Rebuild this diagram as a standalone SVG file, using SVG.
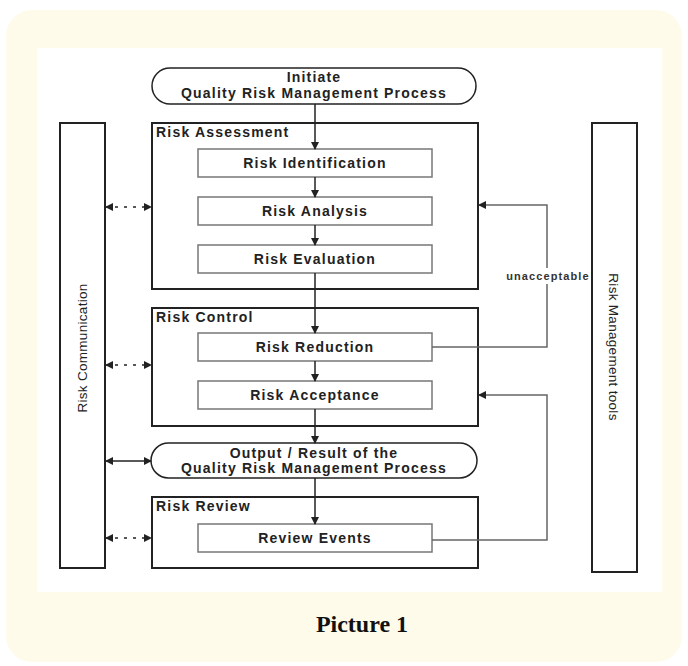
<svg xmlns="http://www.w3.org/2000/svg" width="688" height="666" viewBox="0 0 688 666">
<style>
.t{font-family:"Liberation Sans",Arial,sans-serif;font-weight:bold;font-size:14px;fill:#222;letter-spacing:1.2px}
.tc{text-anchor:middle}
.big{fill:none;stroke:#222;stroke-width:2}
.inner{fill:#fff;stroke:#777;stroke-width:1.5}
.flow{stroke:#222;stroke-width:1.5;fill:none}
.fb{stroke:#666;stroke-width:1.5;fill:none}
.v{font-family:"Liberation Sans",Arial,sans-serif;font-size:13.5px;fill:#222;text-anchor:middle;letter-spacing:0.3px}
</style>
<defs>
<marker id="ah" markerWidth="8" markerHeight="8" refX="7" refY="4" orient="auto" markerUnits="userSpaceOnUse">
<path d="M0,0 L8,4 L0,8 z" fill="#222"/>
</marker>
<marker id="ahs" markerWidth="8" markerHeight="8" refX="7" refY="4" orient="auto-start-reverse" markerUnits="userSpaceOnUse">
<path d="M0,0 L8,4 L0,8 z" fill="#222"/>
</marker>
</defs>
<rect x="6" y="10" width="676" height="652" rx="26" fill="#fffbea"/>
<rect x="37" y="48" width="625" height="544" fill="#fff"/>

<g id="initiate">
<rect x="152" y="68" width="324" height="36" rx="18" fill="#fff" stroke="#222" stroke-width="1.5"/>
<text class="t tc" x="314" y="82">Initiate</text>
<text class="t tc" x="314" y="98">Quality Risk Management Process</text>
</g>

<g id="risk-assessment">
<rect class="big" x="152" y="123" width="326" height="166"/>
<text class="t" x="156" y="137">Risk Assessment</text>
</g>
<g id="risk-identification">
<rect class="inner" x="198" y="149" width="234" height="28"/>
<text class="t tc" x="315" y="168">Risk Identification</text>
</g>
<g id="risk-analysis">
<rect class="inner" x="198" y="197" width="234" height="28"/>
<text class="t tc" x="315" y="216">Risk Analysis</text>
</g>
<g id="risk-evaluation">
<rect class="inner" x="198" y="245" width="234" height="28"/>
<text class="t tc" x="315" y="264">Risk Evaluation</text>
</g>

<g id="risk-control">
<rect class="big" x="152" y="308" width="326" height="118"/>
<text class="t" x="156" y="322">Risk Control</text>
</g>
<g id="risk-reduction">
<rect class="inner" x="198" y="333" width="234" height="28"/>
<text class="t tc" x="315" y="352">Risk Reduction</text>
</g>
<g id="risk-acceptance">
<rect class="inner" x="198" y="381" width="234" height="28"/>
<text class="t tc" x="315" y="400">Risk Acceptance</text>
</g>

<g id="output">
<rect x="151" y="443" width="326" height="35" rx="17.5" fill="#fff" stroke="#222" stroke-width="1.5"/>
<text class="t tc" x="314" y="458">Output / Result of the</text>
<text class="t tc" x="314" y="473">Quality Risk Management Process</text>
</g>

<g id="risk-review">
<rect class="big" x="152" y="497" width="326" height="71"/>
<text class="t" x="156" y="511">Risk Review</text>
</g>
<g id="review-events">
<rect class="inner" x="198" y="524" width="234" height="28"/>
<text class="t tc" x="315" y="543">Review Events</text>
</g>

<g id="risk-communication">
<rect class="big" x="60" y="123" width="45" height="445" fill="#fff"/>
<text class="v" transform="translate(87,348) rotate(-90)">Risk Communication</text>
</g>
<g id="risk-management-tools">
<rect class="big" x="592" y="123" width="45" height="449" fill="#fff"/>
<text class="v" transform="translate(609,347) rotate(90)">Risk Management tools</text>
</g>

<g id="connectors">
<line class="flow" x1="315" y1="104" x2="315" y2="149" marker-end="url(#ah)"/>
<line class="flow" x1="315" y1="177" x2="315" y2="197" marker-end="url(#ah)"/>
<line class="flow" x1="315" y1="225" x2="315" y2="245" marker-end="url(#ah)"/>
<line class="flow" x1="315" y1="273" x2="315" y2="333" marker-end="url(#ah)"/>
<line class="flow" x1="315" y1="361" x2="315" y2="381" marker-end="url(#ah)"/>
<line class="flow" x1="315" y1="409" x2="315" y2="443" marker-end="url(#ah)"/>
<line class="flow" x1="315" y1="478" x2="315" y2="524" marker-end="url(#ah)"/>

<line class="flow" x1="106" y1="207" x2="151" y2="207" stroke-dasharray="3,6" marker-start="url(#ahs)" marker-end="url(#ah)"/>
<line class="flow" x1="106" y1="365" x2="151" y2="365" stroke-dasharray="3,6" marker-start="url(#ahs)" marker-end="url(#ah)"/>
<line class="flow" x1="106" y1="461" x2="151" y2="461" marker-start="url(#ahs)" marker-end="url(#ah)"/>
<line class="flow" x1="106" y1="538" x2="151" y2="538" stroke-dasharray="3,6" marker-start="url(#ahs)" marker-end="url(#ah)"/>

<polyline class="fb" points="432,347 547,347 547,284"/>
<polyline class="fb" points="547,268 547,205 479,205" marker-end="url(#ah)"/>
<text x="548" y="280" text-anchor="middle" font-family="'Liberation Sans',Arial,sans-serif" font-size="11" font-weight="bold" letter-spacing="1.1" fill="#333">unacceptable</text>
<polyline class="fb" points="432,540 547,540 547,395 479,395" marker-end="url(#ah)"/>
</g>

<text x="362" y="632" text-anchor="middle" font-family="'Liberation Serif','Times New Roman',serif" font-weight="bold" font-size="24" fill="#111">Picture 1</text>
</svg>
